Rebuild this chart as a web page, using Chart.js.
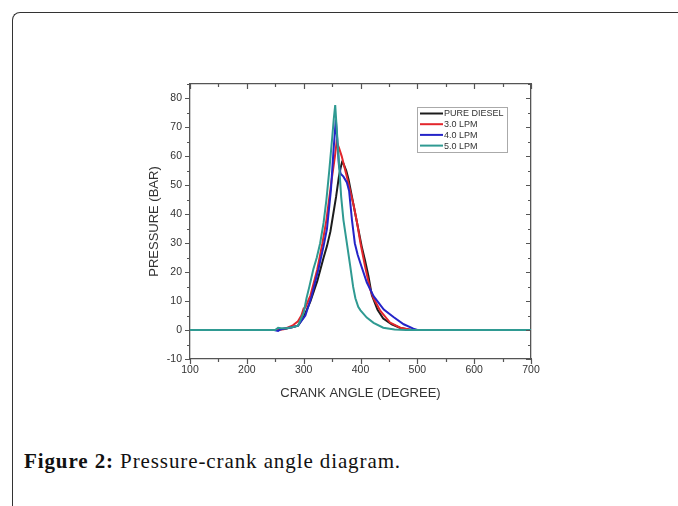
<!DOCTYPE html>
<html>
<head>
<meta charset="utf-8">
<script src="https://cdn.jsdelivr.net/npm/chart.js@4.4.1/dist/chart.umd.min.js"></script>
<style>
  html, body { margin: 0; padding: 0; background: #fff; width: 678px; height: 506px; overflow: hidden; }
  .frame {
    position: absolute; left: 12px; top: 12px; width: 720px; height: 540px;
    border-top: 1.5px solid #333; border-left: 1.5px solid #333; border-top-left-radius: 8px;
  }
  #wrap { position: absolute; left: 0; top: 0; width: 678px; height: 420px; }
  .caption {
    position: absolute; left: 24px; top: 449px; letter-spacing: 0.9px;
    font-family: "Liberation Serif", "Times New Roman", serif; font-size: 21px; color: #111;
  }
</style>
</head>
<body>
<div class="frame"></div>
<div id="wrap"><canvas id="pressureChart" width="678" height="420"></canvas></div>
<div class="caption"><b>Figure 2:</b> Pressure-crank angle diagram.</div>

<script>
// Series labels
const seriesLabels = ['PURE DIESEL', '3.0 LPM', '4.0 LPM', '5.0 LPM'];

// Pure diesel
const dieselAngle = [100, 250, 270, 290, 300, 312, 324, 335, 341, 347, 352, 357, 362, 365, 367.5, 370, 375, 379, 385, 391, 397, 402, 408, 414, 420, 430, 440, 455, 470, 490, 700];
const dieselPressure = [0, 0, 0.5, 1.5, 4.5, 10, 17, 25, 29, 34, 40, 46, 53, 56, 58, 57.5, 55, 52, 46, 40, 34, 29, 24, 18.6, 12, 7, 4, 2, 0.7, 0, 0];

// 3.0 LPM
const lpm3Angle = [100, 250, 265, 280, 290, 296, 300, 303, 312, 324, 333, 340, 344, 350, 355, 358, 362, 367, 376, 382, 388, 394, 400, 408, 417, 423, 435, 452, 470, 490, 700];
const lpm3Pressure = [0, 0, 0.3, 1.5, 3, 5, 7.5, 7.8, 12, 21, 30, 38, 44, 53, 60, 65, 63, 60, 53, 48, 43, 37, 30, 22, 14, 11, 6.6, 2.6, 0.8, 0, 0];

// 4.0 LPM
const lpm4Angle = [100, 248, 255, 260, 270, 280, 290, 303, 314, 326, 335, 341, 348, 352.5, 356.6, 359, 362, 365, 370, 376, 380, 385, 390, 395, 400, 411, 423, 441, 458, 476, 493, 500, 700];
const lpm4Pressure = [0, 0, -0.3, 0.3, 0.6, 1, 1.5, 5, 11.7, 21, 29, 35, 48.5, 62, 72.7, 66, 57, 54, 53, 51, 48, 38, 30, 26, 23, 16.5, 11.7, 7.1, 4.5, 2, 0.5, 0, 0];

// 5.0 LPM
const lpm5Angle = [100, 250, 255, 260, 270, 280, 290, 300, 305, 310, 317, 323, 329, 335, 340, 345, 350, 353, 355.5, 358, 362, 366, 370, 376, 382, 387, 391, 396, 400, 411, 423, 440, 460, 480, 700];
const lpm5Pressure = [0, 0, 0.8, 0.6, 0.6, 1, 1.5, 6, 11, 15, 21, 25, 30, 37, 45, 55, 66, 73, 77.7, 70, 58, 46, 38, 30, 22, 15, 11, 8, 6.8, 4.3, 2.5, 0.8, 0.2, 0, 0];

// Axis ranges and ticks
const xMin = 100, xMax = 700, xStep = 100;
const yMin = -10, yMax = 85, yStep = 10;

const colors = ['#1c1c1c', '#e3262c', '#2424c8', '#2f9a92'];
const axisColor = '#555';
const textColor = '#333';

const toPoints = (xs, ys) => xs.map((x, i) => ({ x: x, y: ys[i] }));
const series = [
  toPoints(dieselAngle, dieselPressure),
  toPoints(lpm3Angle, lpm3Pressure),
  toPoints(lpm4Angle, lpm4Pressure),
  toPoints(lpm5Angle, lpm5Pressure)
];

// Origin-style tick marks: outward on bottom/left, inward on top/right, minor ticks halfway
const tickMarks = {
  id: 'tickMarks',
  afterDraw(chart) {
    const { ctx, chartArea: a, scales: { x, y } } = chart;
    ctx.save();
    ctx.strokeStyle = axisColor;
    ctx.lineWidth = 1.2;
    ctx.beginPath();
    for (let v = xMin; v <= xMax; v += xStep / 2) {
      const px = Math.round(x.getPixelForValue(v)) + 0.5;
      const len = (v - xMin) % xStep === 0 ? 5 : 3;
      ctx.moveTo(px, a.bottom); ctx.lineTo(px, a.bottom + len);
      ctx.moveTo(px, a.top); ctx.lineTo(px, a.top + len);
    }
    for (let v = yMin; v <= yMax; v += yStep / 2) {
      const py = Math.round(y.getPixelForValue(v)) + 0.5;
      const len = (v - yMin) % yStep === 0 ? 5 : 3;
      ctx.moveTo(a.left, py); ctx.lineTo(a.left - len, py);
      ctx.moveTo(a.right, py); ctx.lineTo(a.right - len, py);
    }
    ctx.stroke();
    ctx.restore();
  }
};

// Boxed legend inside the plot, upper right
const boxLegend = {
  id: 'boxLegend',
  afterDraw(chart) {
    const { ctx } = chart;
    const left = 417, top = 107, w = 90, h = 45, row = 10.7;
    ctx.save();
    ctx.strokeStyle = '#aaa';
    ctx.lineWidth = 1;
    ctx.strokeRect(left + 0.5, top + 0.5, w, h);
    ctx.font = '9px "Liberation Sans", Arial, sans-serif';
    ctx.textBaseline = 'middle';
    ctx.fillStyle = textColor;
    chart.data.datasets.forEach((ds, i) => {
      const cy = top + 6.5 + i * row;
      ctx.strokeStyle = ds.borderColor;
      ctx.lineWidth = 2;
      ctx.beginPath();
      ctx.moveTo(left + 3, cy); ctx.lineTo(left + 26, cy);
      ctx.stroke();
      ctx.fillText(ds.label, left + 27, cy + 0.5);
    });
    ctx.restore();
  }
};

const tickFont = { family: '"Liberation Sans", Arial, sans-serif', size: 10.5 };
const titleFont = { family: '"Liberation Sans", Arial, sans-serif', size: 13 };

new Chart(document.getElementById('pressureChart').getContext('2d'), {
  type: 'line',
  data: {
    datasets: series.map((pts, i) => ({
      label: seriesLabels[i],
      data: pts,
      borderColor: colors[i],
      backgroundColor: colors[i],
      borderWidth: 2,
      pointRadius: 0,
      tension: 0,
      order: series.length - i
    }))
  },
  options: {
    responsive: false,
    animation: false,
    events: [],
    layout: { padding: { left: 143, right: 147, top: 84, bottom: 15 } },
    plugins: { legend: { display: false }, tooltip: { enabled: false } },
    scales: {
      x: {
        type: 'linear', position: 'bottom', min: xMin, max: xMax,
        afterFit: s => { s.height = 46; },
        grid: { display: false, drawTicks: true, tickLength: 4 },
        border: { display: true, color: axisColor, width: 1.3 },
        ticks: { stepSize: xStep, padding: 1, color: textColor, font: tickFont, maxRotation: 0 },
        title: { display: true, text: 'CRANK ANGLE (DEGREE)', color: textColor, font: titleFont }
      },
      y: {
        type: 'linear', position: 'left', min: yMin, max: yMax,
        afterFit: s => { s.width = 47; },
        grid: { display: false, drawTicks: true, tickLength: 5 },
        border: { display: true, color: axisColor, width: 1.3 },
        ticks: { stepSize: yStep, includeBounds: false, padding: 3, color: textColor, font: tickFont },
        title: { display: true, text: 'PRESSURE (BAR)', color: textColor, font: titleFont }
      },
      x2: {
        type: 'linear', position: 'top', min: xMin, max: xMax,
        afterFit: s => { s.height = 0; },
        grid: { display: false, drawTicks: false },
        border: { display: true, color: axisColor, width: 1.3 },
        ticks: { display: false }
      },
      y2: {
        type: 'linear', position: 'right', min: yMin, max: yMax,
        afterFit: s => { s.width = 0; },
        grid: { display: false, drawTicks: false },
        border: { display: true, color: axisColor, width: 1.3 },
        ticks: { display: false }
      }
    }
  },
  plugins: [tickMarks, boxLegend]
});
</script>
</body>
</html>
